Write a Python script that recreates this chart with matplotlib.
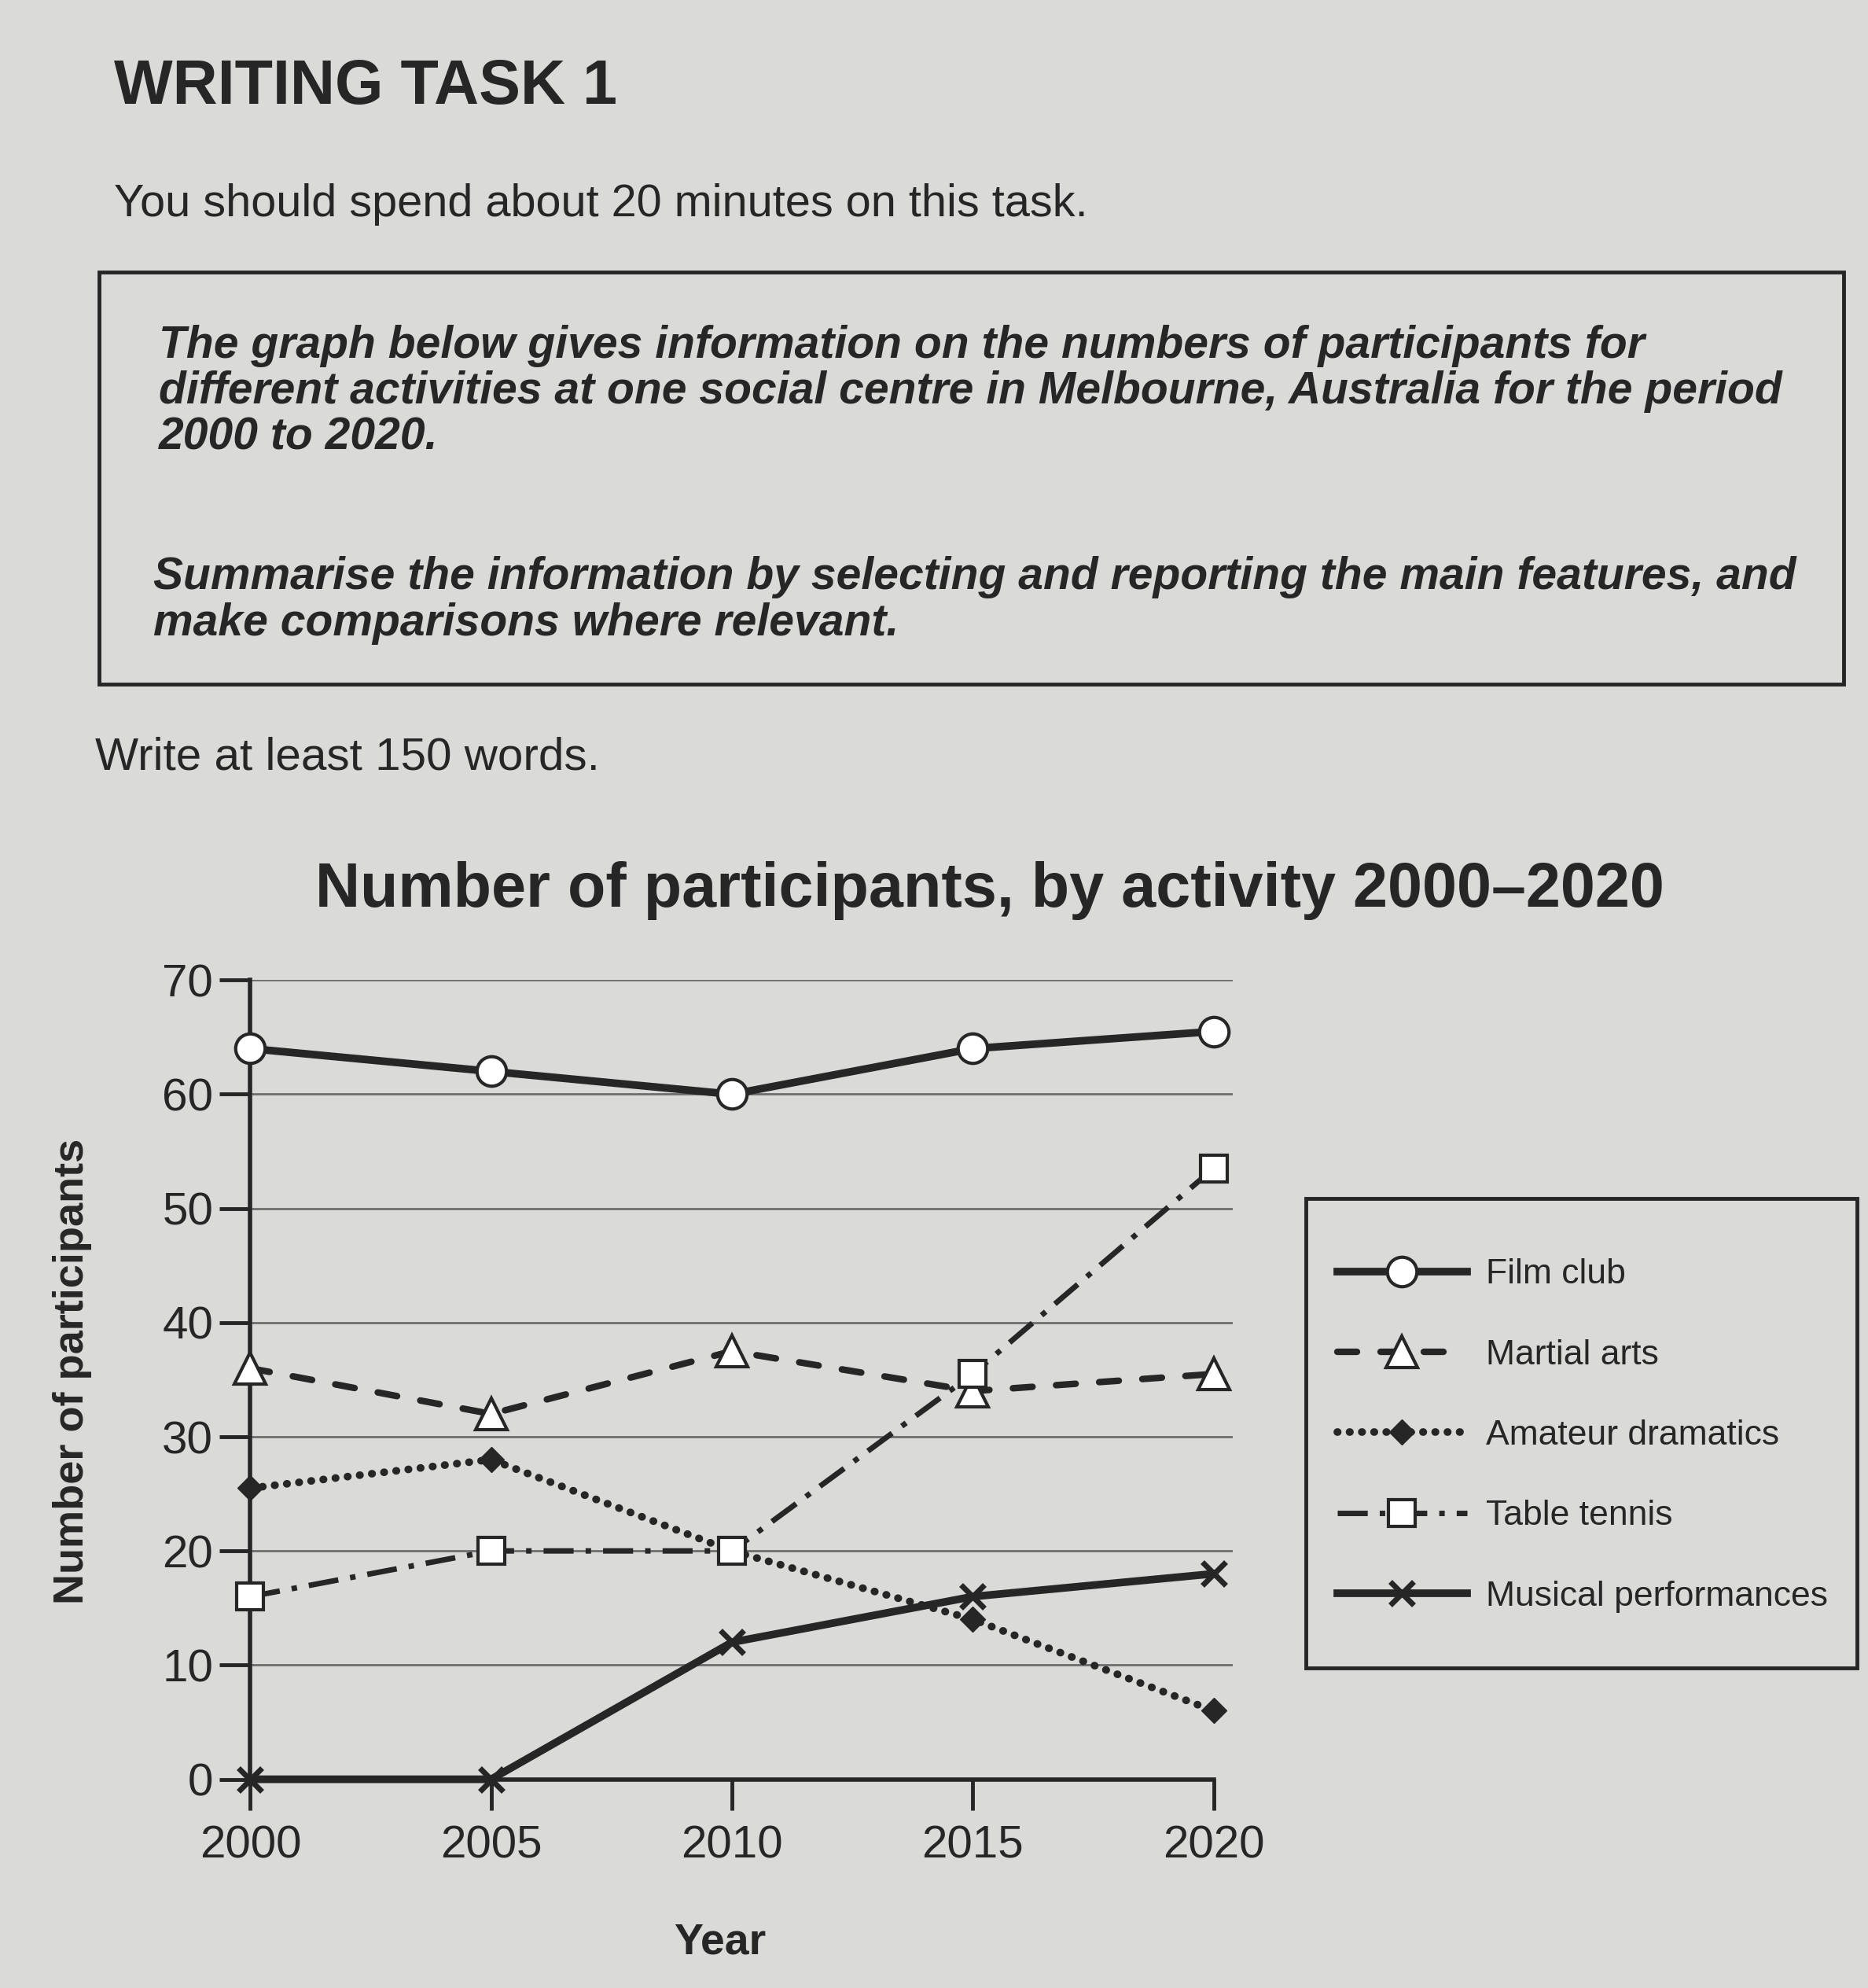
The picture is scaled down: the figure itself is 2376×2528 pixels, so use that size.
import matplotlib
matplotlib.use("Agg")
import matplotlib.pyplot as plt
from matplotlib.patches import Rectangle

years = [2000, 2005, 2010, 2015, 2020]
film_club = [64, 62, 60, 64, 65.5]
martial_arts = [36, 32, 37.5, 34, 35.5]
amateur_dramatics = [25.5, 28, 20, 14, 6]
table_tennis = [16, 20, 20, 35.5, 53.5]
musical_performances = [0, 0, 12, 16, 18]
series_names = ["Film club", "Martial arts", "Amateur dramatics", "Table tennis", "Musical performances"]
y_ticks = [0, 10, 20, 30, 40, 50, 60, 70]

plt.rcParams['font.family'] = ['Liberation Sans', 'DejaVu Sans']
BG = '#dadad8'
INK = '#262626'

fig = plt.figure(figsize=(23.76, 25.28), dpi=100, facecolor=BG)

# Page text
fig.text(0.061, 0.956, "WRITING TASK 1", fontsize=57, fontweight='bold', color=INK, va='center', ha='left')
fig.text(0.061, 0.897, "You should spend about 20 minutes on this task.", fontsize=41.5, color=INK,
         va='center', ha='left')
fig.patches.append(Rectangle((0.053, 0.656), 0.934, 0.207, transform=fig.transFigure,
                             fill=False, edgecolor=INK, linewidth=3.5))
para1 = ("The graph below gives information on the numbers of participants for\n"
         "different activities at one social centre in Melbourne, Australia for the period\n"
         "2000 to 2020.")
para2 = ("Summarise the information by selecting and reporting the main features, and\n"
         "make comparisons where relevant.")
fig.text(0.085, 0.803, para1, fontsize=41, fontweight='bold', fontstyle='italic', color=INK,
         va='center', ha='left', linespacing=1.1)
fig.text(0.082, 0.698, para2, fontsize=41, fontweight='bold', fontstyle='italic', color=INK,
         va='center', ha='left', linespacing=1.1)
fig.text(0.051, 0.619, "Write at least 150 words.", fontsize=42, color=INK, va='center', ha='left')

# Chart title
fig.text(0.53, 0.552, "Number of participants, by activity 2000\u20132020", fontsize=57,
         fontweight='bold', color=INK, va='center', ha='center')

# Chart
ax = fig.add_axes([0.134, 0.105, 0.526, 0.402])
ax.set_facecolor(BG)
for y in y_ticks[1:]:
    ax.axhline(y, color='#6e6e6e', linewidth=2, zorder=0)

ax.plot(years, film_club, color=INK, linestyle='-', linewidth=7, marker='o', markersize=27,
        markerfacecolor='white', markeredgecolor=INK, markeredgewidth=3, clip_on=False,
        label=series_names[0], zorder=3)
ax.plot(years, martial_arts, color=INK, linestyle=(0, (3.0, 3.6)), linewidth=6, dash_capstyle='round',
        marker='^', markersize=29, markerfacecolor='white', markeredgecolor=INK, markeredgewidth=3,
        clip_on=False, label=series_names[1], zorder=3)
ax.plot(years, amateur_dramatics, color=INK, linestyle=(0, (0.05, 1.55)), linewidth=7, dash_capstyle='round',
        marker='D', markersize=16, markerfacecolor=INK, markeredgecolor=INK, clip_on=False,
        label=series_names[2], zorder=3)
ax.plot(years, table_tennis, color=INK, linestyle=(0, (5.5, 2.2, 1.0, 2.2)), linewidth=5,
        marker='s', markersize=24, markerfacecolor='white', markeredgecolor=INK, markeredgewidth=3,
        clip_on=False, label=series_names[3], zorder=3)
ax.plot(years, musical_performances, color=INK, linestyle='-', linewidth=7, marker='x', markersize=21,
        markeredgewidth=5, markeredgecolor=INK, clip_on=False, label=series_names[4], zorder=3)

ax.set_xlim(2000, 2020.4)
ax.set_ylim(0, 70)
ax.set_xticks(years)
ax.set_yticks(y_ticks)
ax.tick_params(axis='both', labelsize=42, colors=INK, width=3.5, length=28, direction='out')
ax.tick_params(axis='x', pad=14)
ax.tick_params(axis='y', pad=6)
for s in ['top', 'right']:
    ax.spines[s].set_visible(False)
for s in ['left', 'bottom']:
    ax.spines[s].set_linewidth(4)
    ax.spines[s].set_color(INK)
ax.spines['bottom'].set_bounds(2000, 2020)

ax.set_xlabel("Year", fontsize=40, fontweight='bold', color=INK)
ax.xaxis.set_label_coords(0.478, -0.179)
ax.set_ylabel("Number of participants", fontsize=39, fontweight='bold', color=INK)
ax.yaxis.set_label_coords(-0.161, 0.51)

# Legend
fig.patches.append(Rectangle((0.699, 0.161), 0.295, 0.236, transform=fig.transFigure,
                             fill=False, edgecolor=INK, linewidth=3.5))
leg = fig.legend(loc='upper left', bbox_to_anchor=(0.716, 0.367), fontsize=32, frameon=False,
                 handlelength=3.7, labelspacing=1.38, borderpad=0, handletextpad=0.55,
                 borderaxespad=0)
for t in leg.get_texts():
    t.set_color(INK)

fig.savefig("out.png", dpi=100, facecolor=BG)
